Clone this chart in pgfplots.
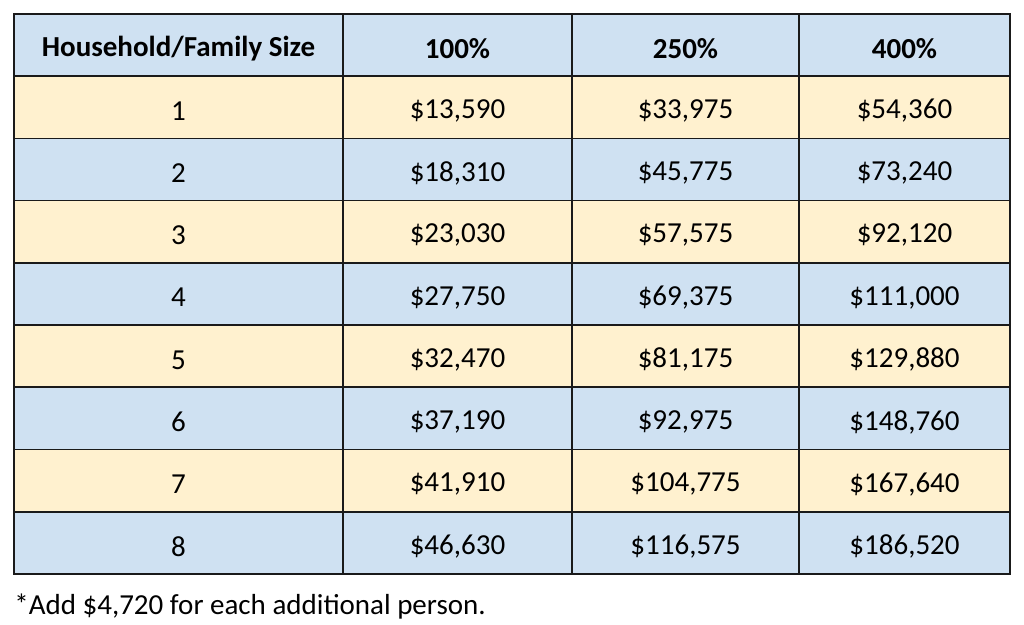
\documentclass[border=0pt]{standalone}
\usepackage{pgfplots}
\pgfplotsset{compat=1.18}
\usepackage{fontspec}
\setmainfont{Carlito}
\definecolor{cellblue}{HTML}{CFE1F2}
\definecolor{cellyellow}{HTML}{FFF1CF}
\definecolor{gridc}{HTML}{1A1A1A}
\begin{document}
\begin{tikzpicture}
\begin{axis}[
  width=512pt, height=312.5pt, scale only axis,
  xmin=0, xmax=1024, ymin=0, ymax=625, y dir=reverse,
  hide axis, clip=false,
  point meta=explicit symbolic,
  nodes near coords align=center,
  every node near coord/.append style={anchor=center, inner sep=0pt, yshift=-1.8pt, font=\fontsize{14.5}{17}\selectfont, text=black},
]
% invisible frame for bounding box
\addplot[draw=none, mark=none, forget plot] coordinates {(0,0) (1024,625)};
% row backgrounds
\addplot[fill=cellblue, draw=none] coordinates {(14,14) (1010,14) (1010,76.2) (14,76.2)} -- cycle;
\addplot[fill=cellyellow, draw=none] coordinates {(14,76.2) (1010,76.2) (1010,138.4) (14,138.4)} -- cycle;
\addplot[fill=cellblue, draw=none] coordinates {(14,138.4) (1010,138.4) (1010,200.7) (14,200.7)} -- cycle;
\addplot[fill=cellyellow, draw=none] coordinates {(14,200.7) (1010,200.7) (1010,262.9) (14,262.9)} -- cycle;
\addplot[fill=cellblue, draw=none] coordinates {(14,262.9) (1010,262.9) (1010,325.1) (14,325.1)} -- cycle;
\addplot[fill=cellyellow, draw=none] coordinates {(14,325.1) (1010,325.1) (1010,387.3) (14,387.3)} -- cycle;
\addplot[fill=cellblue, draw=none] coordinates {(14,387.3) (1010,387.3) (1010,449.6) (14,449.6)} -- cycle;
\addplot[fill=cellyellow, draw=none] coordinates {(14,449.6) (1010,449.6) (1010,511.8) (14,511.8)} -- cycle;
\addplot[fill=cellblue, draw=none] coordinates {(14,511.8) (1010,511.8) (1010,574) (14,574) } -- cycle;
% grid lines
\pgfplotsset{gridline/.style={draw=gridc, line width=0.8pt, mark=none}}
\addplot[gridline] coordinates {(14,76.2) (1010,76.2)};
\addplot[gridline] coordinates {(14,138.4) (1010,138.4)};
\addplot[gridline] coordinates {(14,200.7) (1010,200.7)};
\addplot[gridline] coordinates {(14,262.9) (1010,262.9)};
\addplot[gridline] coordinates {(14,325.1) (1010,325.1)};
\addplot[gridline] coordinates {(14,387.3) (1010,387.3)};
\addplot[gridline] coordinates {(14,449.6) (1010,449.6)};
\addplot[gridline] coordinates {(14,511.8) (1010,511.8)};
\addplot[gridline] coordinates {(343,14) (343,574)};
\addplot[gridline] coordinates {(572,14) (572,574)};
\addplot[gridline] coordinates {(799,14) (799,574)};
\addplot[gridline] coordinates {(14,14) (1010,14) (1010,574) (14,574)} -- cycle;
% header
\addplot[draw=none, mark=none, nodes near coords, every node near coord/.append style={font=\fontsize{14.5}{17}\selectfont\bfseries}] coordinates {
(178.5,45.1) [Household/Family Size]
(457.5,45.1) [100\%]
(685.5,45.1) [250\%]
(904.5,45.1) [400\%]
};
% column: household size
\addplot[draw=none, mark=none, nodes near coords] coordinates {
(178.5,107.3) [1]
(178.5,169.6) [2]
(178.5,231.8) [3]
(178.5,294.0) [4]
(178.5,356.2) [5]
(178.5,418.4) [6]
(178.5,480.7) [7]
(178.5,542.9) [8]
};
% column: 100%
\addplot[draw=none, mark=none, nodes near coords] coordinates {
(457.5,107.3) [\$13,590]
(457.5,169.6) [\$18,310]
(457.5,231.8) [\$23,030]
(457.5,294.0) [\$27,750]
(457.5,356.2) [\$32,470]
(457.5,418.4) [\$37,190]
(457.5,480.7) [\$41,910]
(457.5,542.9) [\$46,630]
};
% column: 250%
\addplot[draw=none, mark=none, nodes near coords] coordinates {
(685.5,107.3) [\$33,975]
(685.5,169.6) [\$45,775]
(685.5,231.8) [\$57,575]
(685.5,294.0) [\$69,375]
(685.5,356.2) [\$81,175]
(685.5,418.4) [\$92,975]
(685.5,480.7) [\$104,775]
(685.5,542.9) [\$116,575]
};
% column: 400%
\addplot[draw=none, mark=none, nodes near coords] coordinates {
(904.5,107.3) [\$54,360]
(904.5,169.6) [\$73,240]
(904.5,231.8) [\$92,120]
(904.5,294.0) [\$111,000]
(904.5,356.2) [\$129,880]
(904.5,418.4) [\$148,760]
(904.5,480.7) [\$167,640]
(904.5,542.9) [\$186,520]
};
% footnote
\addplot[draw=none, mark=none, nodes near coords, every node near coord/.append style={anchor=west, yshift=0pt}] coordinates {
(14,603) [*Add \$4,720 for each additional person.]
};
\end{axis}
\end{tikzpicture}
\end{document}
